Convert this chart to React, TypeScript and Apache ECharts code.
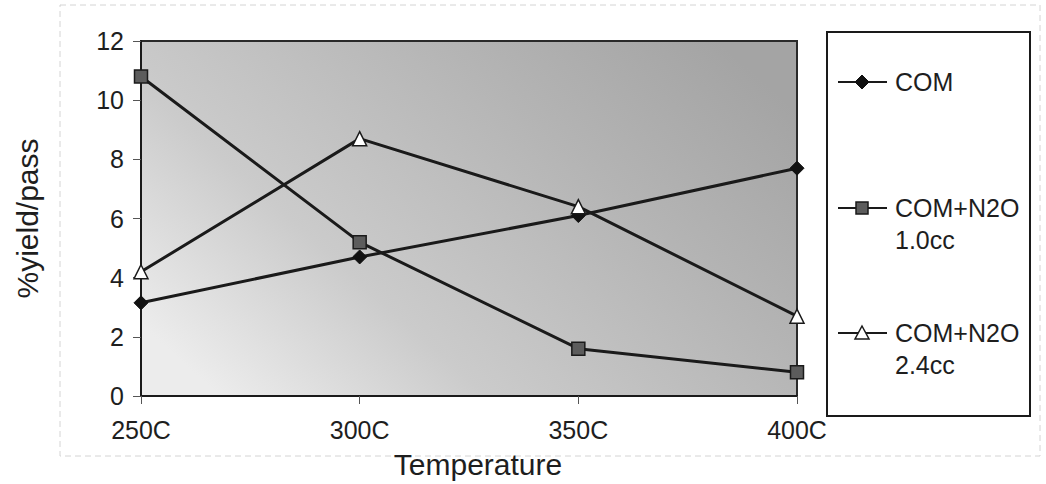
import React, { useEffect, useRef } from "react";
import * as echarts from "echarts";

const categories = ["250C", "300C", "350C", "400C"];
const yTicks = [0, 2, 4, 6, 8, 10, 12];
const seriesNames = ["COM", "COM+N2O\n1.0cc", "COM+N2O\n2.4cc"];
const comValues = [3.15, 4.7, 6.1, 7.7];
const n2o10Values = [10.8, 5.2, 1.6, 0.8];
const n2o24Values = [4.2, 8.7, 6.4, 2.7];

const FONT = "'Liberation Sans', Arial, sans-serif";
const TXT = "#1e1e1e";

export default function App() {
  const ref = useRef<HTMLDivElement>(null);
  useEffect(() => {
    if (!ref.current) return;
    const chart = echarts.init(ref.current, undefined, { renderer: "svg" });
    const bg = new echarts.graphic.LinearGradient(0, 0.8, 1, 0.2, [
      { offset: 0, color: "#ececec" },
      { offset: 0.3, color: "#cbcbcb" },
      { offset: 0.7, color: "#b4b4b4" },
      { offset: 1, color: "#a4a4a4" },
    ]);
    const legendItems = [
      { y: 82, name: seriesNames[0], marker: "diamond" },
      { y: 208, name: seriesNames[1], marker: "rect" },
      { y: 333, name: seriesNames[2], marker: "triangle" },
    ];
    const legendGraphics: any[] = [
      {
        type: "rect",
        shape: { x: 827, y: 32, width: 203, height: 384 },
        style: { fill: "#fff", stroke: "#1a1a1a", lineWidth: 2 },
      },
    ];
    legendItems.forEach((it) => {
      const cx = 862;
      legendGraphics.push({
        type: "line",
        shape: { x1: 838, y1: it.y, x2: 887, y2: it.y },
        style: { stroke: "#1a1a1a", lineWidth: 2 },
      });
      if (it.marker === "diamond") {
        legendGraphics.push({
          type: "polygon",
          shape: { points: [[cx, it.y - 7], [cx + 7, it.y], [cx, it.y + 7], [cx - 7, it.y]] },
          style: { fill: "#111", stroke: "#111" },
        });
      } else if (it.marker === "rect") {
        legendGraphics.push({
          type: "rect",
          shape: { x: cx - 6, y: it.y - 6, width: 12, height: 12 },
          style: { fill: "#5c5c5c", stroke: "#1a1a1a", lineWidth: 1.5 },
        });
      } else {
        legendGraphics.push({
          type: "polygon",
          shape: { points: [[cx, it.y - 7], [cx + 7, it.y + 6], [cx - 7, it.y + 6]] },
          style: { fill: "#fff", stroke: "#1a1a1a", lineWidth: 1.5 },
        });
      }
      legendGraphics.push({
        type: "text",
        x: 895,
        y: it.y - 16,
        style: {
          text: it.name,
          font: `25px ${FONT}`,
          fill: TXT,
          lineHeight: 32,
          textVerticalAlign: "top",
        },
      });
    });

    const option: any = {
      animation: false,
      backgroundColor: "#fff",
      textStyle: { fontFamily: FONT },
      grid: {
        left: 141,
        right: 249,
        top: 41,
        bottom: 88,
        show: true,
        backgroundColor: bg,
        borderColor: "#2a2a2a",
        borderWidth: 2,
      },
      graphic: [
        {
          type: "rect",
          shape: { x: 60, y: 5, width: 980, height: 451 },
          style: { fill: "none", stroke: "#d4d4d4", lineWidth: 1, lineDash: [6, 4] },
          z: -1,
        },
        ...legendGraphics,
      ],
      xAxis: {
        type: "category",
        data: categories,
        boundaryGap: false,
        name: "Temperature",
        nameLocation: "middle",
        nameGap: 53,
        nameTextStyle: { fontSize: 30, color: TXT, fontFamily: FONT, padding: [0, 0, 0, 18] },
        axisLine: { lineStyle: { color: "#1a1a1a", width: 2 } },
        axisTick: { show: true, length: 8, inside: false, lineStyle: { color: "#555" } },
        axisLabel: { fontSize: 25, color: TXT, margin: 21, fontFamily: FONT },
        splitLine: { show: false },
      },
      yAxis: {
        type: "value",
        min: yTicks[0],
        max: yTicks[yTicks.length - 1],
        interval: 2,
        name: "%yield/pass",
        nameLocation: "middle",
        nameGap: 99,
        nameRotate: 90,
        nameTextStyle: { fontSize: 30, color: TXT, fontFamily: FONT },
        axisLine: { show: true, lineStyle: { color: "#1a1a1a", width: 2 } },
        axisTick: { show: true, length: 8, lineStyle: { color: "#555" } },
        axisLabel: { fontSize: 25, color: TXT, margin: 17, fontFamily: FONT },
        splitLine: { show: false },
      },
      series: [
        {
          name: seriesNames[0],
          type: "line",
          data: comValues,
          symbol: "diamond",
          symbolSize: 14,
          lineStyle: { color: "#1a1a1a", width: 3 },
          itemStyle: { color: "#111", borderColor: "#111", borderWidth: 1 },
          z: 3,
        },
        {
          name: seriesNames[1],
          type: "line",
          data: n2o10Values,
          symbol: "rect",
          symbolSize: 13,
          lineStyle: { color: "#1a1a1a", width: 3 },
          itemStyle: { color: "#5c5c5c", borderColor: "#1a1a1a", borderWidth: 1.5 },
          z: 4,
        },
        {
          name: seriesNames[2],
          type: "line",
          data: n2o24Values,
          symbol: "triangle",
          symbolSize: 14,
          lineStyle: { color: "#1a1a1a", width: 3 },
          itemStyle: { color: "#fff", borderColor: "#1a1a1a", borderWidth: 1.5 },
          z: 5,
        },
      ],
    };
    chart.setOption(option);
    return () => chart.dispose();
  }, []);
  return (
    <div
      ref={ref}
      style={{ position: "fixed", left: 0, top: 0, width: 1046, height: 484 }}
    />
  );
}
